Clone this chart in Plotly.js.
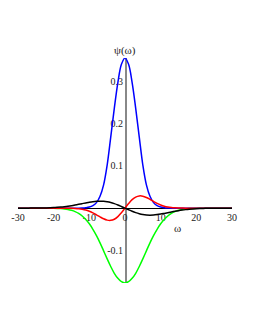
<!DOCTYPE html>
<html>
<head>
<meta charset="utf-8">
<script src="https://cdn.plot.ly/plotly-3.0.1.min.js"></script>
<style>html,body{margin:0;padding:0;background:#fff;}#chart{width:255px;height:330px;}</style>
</head>
<body>
<div id="chart"></div>
<script>
// omega sample points
const omega = [-30,-29,-28,-27,-26,-25,-24,-23,-22,-21,-20,-19,-18,-17,-16,-15,-14,-13,-12,-11,-10,-9,-8,-7,-6,-5,-4,-3,-2,-1,0,1,2,3,4,5,6,7,8,9,10,11,12,13,14,15,16,17,18,19,20,21,22,23,24,25,26,27,28,29,30];

const blueVals = [0,0,0,0,0,0,0,0,0,0,0,0,0,0,0,0,0,0,
  0.0003,0.001,0.0025,0.006,0.013,0.028,0.055,0.102,0.168,0.236,0.297,0.34,
  0.355,
  0.34,0.297,0.236,0.168,0.102,0.055,0.028,0.013,0.006,0.0025,0.001,0.0003,
  0,0,0,0,0,0,0,0,0,0,0,0,0,0,0,0,0,0];

const greenVals = [0,0,0,0,0,0,0,0,0,
  -0.0002,-0.0003,-0.0006,-0.0011,-0.0019,-0.0032,-0.0052,-0.0082,-0.0125,-0.0186,-0.027,-0.037,-0.050,-0.065,-0.082,-0.101,-0.120,-0.138,-0.154,-0.166,-0.174,
  -0.177,
  -0.174,-0.166,-0.154,-0.138,-0.120,-0.101,-0.082,-0.065,-0.050,-0.037,-0.027,-0.0186,-0.0125,-0.0082,-0.0052,-0.0032,-0.0019,-0.0011,-0.0006,-0.0003,-0.0002,
  0,0,0,0,0,0,0,0,0];

const redVals = [0,0,0,0,0,0,0,0,0,0,0,0,0,0,
  -0.0002,-0.0004,-0.0008,-0.0015,-0.0027,-0.0046,-0.0075,-0.0112,-0.0158,-0.0207,-0.0252,-0.0283,-0.0289,-0.0262,-0.020,-0.0108,
  0,
  0.0108,0.020,0.0262,0.0289,0.0283,0.0252,0.0207,0.0158,0.0112,0.0075,0.0046,0.0027,0.0015,0.0008,0.0004,0.0002,
  0,0,0,0,0,0,0,0,0,0,0,0,0,0];

const blackVals = [0,0,0,0,
  0.0001,0.0002,0.0003,0.0004,0.0006,0.0009,0.0013,0.0019,0.0026,0.0035,0.0046,0.0059,0.0074,0.0090,0.0107,0.0124,0.0140,0.0153,0.0162,0.01652,0.01617,0.01507,0.01322,0.01065,0.00747,0.00385,
  0,
  -0.00385,-0.00747,-0.01065,-0.01322,-0.01507,-0.01617,-0.01652,-0.0162,-0.0153,-0.0140,-0.0124,-0.0107,-0.0090,-0.0074,-0.0059,-0.0046,-0.0035,-0.0026,-0.0019,-0.0013,-0.0009,-0.0006,-0.0004,-0.0003,-0.0002,-0.0001,
  0,0,0,0];

const xTicks = [-30,-20,-10,0,10,20,30];
const yTicks = [-0.1,0.1,0.2,0.3];
const yTickText = ['-0.1','0.1','0.2','0.3'];
const xRange = [-30,30];
const yRange = [-0.177,0.355];

function tr(y, color){
  return {x: omega, y: y, type:'scatter', mode:'lines',
    line:{color: color, width:1.5, shape:'spline', smoothing:1},
    hoverinfo:'skip', showlegend:false, cliponaxis:false};
}

const data = [
  tr(greenVals,'#00ff00'),
  tr(blueVals,'#0000ff'),
  tr(redVals,'#ff0000'),
  tr(blackVals,'#000000')
];

const serif = 'Liberation Serif, Times New Roman, serif';
const tickFont = {family:serif, size:10, color:'#222'};
const xPos = (0 - yRange[0])/(yRange[1]-yRange[0]);
const yPos = (0 - xRange[0])/(xRange[1]-xRange[0]);

const layout = {
  width:255, height:330,
  margin:{l:18, r:23, t:58, b:47, pad:0},
  paper_bgcolor:'#fff', plot_bgcolor:'#fff',
  showlegend:false,
  font:{family:serif, size:10, color:'#222'},
  xaxis:{range:xRange, anchor:'free', position:xPos, showline:true, linecolor:'#000', linewidth:1,
    showgrid:false, zeroline:false, tickvals:xTicks, ticktext:xTicks.map(String), ticks:'', tickfont:tickFont,
    fixedrange:true, layer:'below traces'},
  yaxis:{range:yRange, anchor:'free', position:yPos, showline:true, linecolor:'#888', linewidth:1.5,
    showgrid:false, zeroline:false, tickvals:yTicks, ticktext:yTickText, ticks:'', tickfont:tickFont,
    fixedrange:true, layer:'below traces'},
  annotations:[
    {x:0, y:yRange[1], xref:'x', yref:'y', text:'ψ(ω)', showarrow:false, xanchor:'center', yanchor:'bottom', yshift:-1,
      font:{family:serif, size:11, color:'#222'}},
    {x:14.8, y:-0.047, xref:'x', yref:'y', text:'ω', showarrow:false, xanchor:'center', yanchor:'middle',
      font:{family:serif, size:11, color:'#222'}}
  ]
};

Plotly.newPlot('chart', data, layout, {displayModeBar:false, staticPlot:true});
</script>
</body>
</html>
